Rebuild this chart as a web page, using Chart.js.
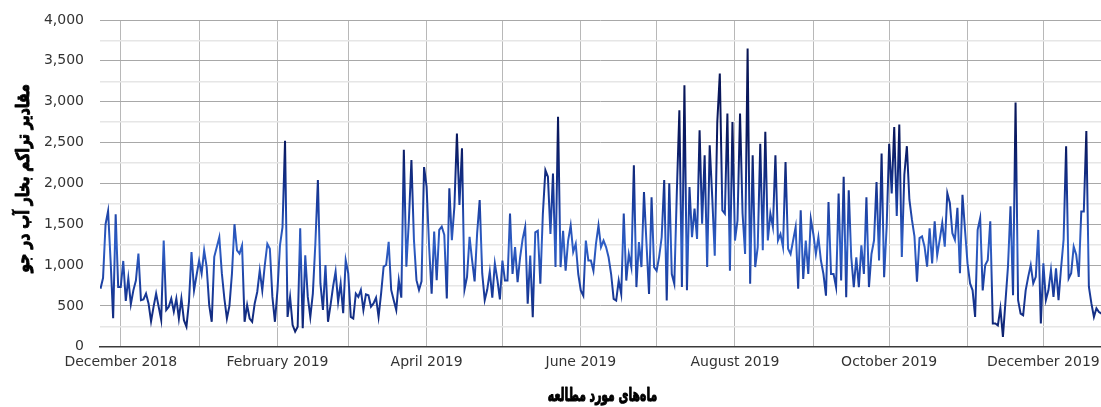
<!DOCTYPE html>
<html>
<head>
<meta charset="utf-8">
<script src="https://cdn.jsdelivr.net/npm/chart.js@4.4.1/dist/chart.umd.min.js"></script>
<style>
html,body{margin:0;padding:0;background:#fff;}
#wrap{width:1101px;height:407px;position:relative;}
</style>
</head>
<body>
<div id="wrap"><canvas id="c"></canvas></div>
<script>
// ---- data: daily values, one array per month ----
const firstDate = '2018-11-23';
const nov2018 = [710, 840, 1500, 1660, 1050, 350, 1620, 730];
const dec2018 = [730, 1050, 560, 840, 520, 690, 810, 1140, 570, 580, 650, 530, 310, 490, 650, 490, 330, 1300, 450, 490, 590, 430, 590, 345, 590, 325, 245, 550, 1160, 690, 875];
const jan2019 = [1055, 895, 1180, 975, 510, 305, 1100, 1220, 1340, 900, 590, 345, 500, 895, 1500, 1180, 1140, 1240, 305, 510, 345, 305, 530, 670, 935, 690, 1000, 1260, 1200, 610, 305];
const feb2019 = [690, 1240, 1465, 2520, 365, 610, 265, 185, 245, 1450, 225, 1120, 610, 365, 650, 1265, 2040, 775, 450, 1000, 305, 510, 735, 920, 550, 775, 410, 1060];
const mar2019 = [900, 365, 345, 650, 610, 695, 450, 640, 630, 490, 530, 600, 365, 650, 980, 1000, 1285, 695, 570, 450, 815, 600, 2410, 980, 1550, 2285, 1305, 815, 695, 800, 2200];
const apr2019 = [1960, 1225, 650, 1410, 815, 1430, 1470, 1370, 590, 1940, 1305, 1715, 2610, 1735, 2430, 700, 855, 1345, 1060, 800, 1390, 1795, 900, 570, 700, 920, 600, 1020, 820, 580];
const may2019 = [1055, 810, 810, 1630, 890, 1220, 790, 1095, 1320, 1465, 525, 1115, 360, 1400, 1420, 770, 1630, 2160, 2080, 1380, 2120, 975, 2815, 975, 1420, 930, 1300, 1485, 1160, 1260, 890];
const jun2019 = [690, 625, 1300, 1055, 1055, 930, 1260, 1485, 1220, 1300, 1220, 1095, 890, 585, 565, 810, 645, 1630, 810, 1135, 975, 2220, 730, 1280, 975, 1895, 1260, 645, 1830, 975];
const jul2019 = [930, 1100, 1340, 2040, 565, 2000, 890, 770, 1895, 2895, 730, 3200, 690, 1955, 1340, 1690, 1320, 2650, 1505, 2345, 975, 2465, 1830, 1115, 2750, 3345, 1670, 1630, 2855, 930, 2750];
const aug2019 = [1300, 1545, 2855, 1630, 1135, 3650, 770, 2345, 975, 1220, 2485, 1180, 2630, 1300, 1630, 1465, 2345, 1300, 1380, 1220, 2260, 1200, 1135, 1300, 1465, 710, 1670, 830, 1300, 890, 1565];
const sep2019 = [1380, 1135, 1340, 1055, 890, 625, 1770, 890, 890, 730, 1875, 810, 2080, 605, 1915, 1095, 730, 1095, 730, 1240, 890, 1830, 730, 1135, 1300, 2015, 1055, 2365, 850, 1465];
const oct2019 = [2485, 1875, 2690, 1600, 2720, 1100, 2105, 2455, 1800, 1555, 1350, 795, 1330, 1350, 1225, 980, 1450, 1020, 1535, 1120, 1310, 1515, 1225, 1880, 1760, 1390, 1310, 1700, 900, 1860, 1430];
const nov2019 = [1020, 775, 690, 365, 1430, 1575, 690, 1000, 1060, 1535, 285, 285, 260, 470, 120, 550, 980, 1720, 630, 2990, 570, 405, 385, 690, 855, 1000, 775, 855, 1430, 285];
const dec2019 = [1020, 570, 690, 940, 610, 960, 570, 960, 1310, 2455, 835, 900, 1225, 1125, 855, 1655, 1655, 2640, 735, 530, 365, 470, 425, 405];

// ---- axis labels ----
const tickDates = ['2018-12-01','2019-01-01','2019-02-01','2019-03-01','2019-04-01','2019-05-01','2019-06-01','2019-07-01','2019-08-01','2019-09-01','2019-10-01','2019-11-01','2019-12-01'];
const tickLabels = ['December 2018','','February 2019','','April 2019','','June 2019','','August 2019','','October 2019','','December 2019'];
const yTitle = 'مقادیر تراکم بخار آب در جو';
const xTitle = 'ماه\u200cهای مورد مطالعه';

// ---- build series ----
const DAY = 86400000;
const toUTC = s => { const p = s.split('-').map(Number); return Date.UTC(p[0], p[1]-1, p[2]); };
const origin = toUTC(tickDates[0]);
const values = [].concat(nov2018, dec2018, jan2019, feb2019, mar2019, apr2019, may2019, jun2019, jul2019, aug2019, sep2019, oct2019, nov2019, dec2019);
const startOffset = (toUTC(firstDate) - origin) / DAY;
const points = values.map((v, i) => ({ x: startOffset + i, y: v }));
const tickPos = tickDates.map(d => (toUTC(d) - origin) / DAY);

const FONT = "'DejaVu Sans', sans-serif";

function lineGradient(ctx) {
  const chart = ctx.chart;
  const area = chart.chartArea;
  if (!area) return '#1a3a98';
  const y = chart.scales.y;
  const g = chart.ctx.createLinearGradient(0, y.getPixelForValue(0), 0, y.getPixelForValue(4000));
  g.addColorStop(0.0, '#0a1a62');
  g.addColorStop(0.18, '#1a3d9e');
  g.addColorStop(0.31, '#2f5fc6');
  g.addColorStop(0.44, '#1a3d9e');
  g.addColorStop(0.62, '#0a1a62');
  g.addColorStop(1.0, '#071350');
  return g;
}

// axis titles drawn as canvas text, condensed and heavy like the reference typeface
const axisTitles = {
  id: 'axisTitles',
  afterDraw(chart) {
    const ctx = chart.ctx;
    const a = chart.chartArea;
    ctx.save();
    ctx.fillStyle = '#000';
    ctx.strokeStyle = '#000';
    ctx.lineJoin = 'round';
    ctx.textAlign = 'center';
    ctx.textBaseline = 'middle';
    ctx.save();
    ctx.translate(24, (a.top + a.bottom) / 2 - 5);
    ctx.rotate(-Math.PI / 2);
    ctx.scale(0.82, 1.05);
    ctx.font = "bold 17px 'DejaVu Sans', sans-serif";
    ctx.lineWidth = 0.9;
    ctx.fillText(yTitle, 0, 0);
    ctx.strokeText(yTitle, 0, 0);
    ctx.restore();
    ctx.save();
    ctx.translate((a.left + a.right) / 2 + 2, 396);
    ctx.scale(0.6, 1);
    ctx.font = "bold 18px 'DejaVu Sans', sans-serif";
    ctx.lineWidth = 1.1;
    ctx.fillText(xTitle, 0, 0);
    ctx.strokeText(xTitle, 0, 0);
    ctx.restore();
    ctx.restore();
  }
};

new Chart(document.getElementById('c'), {
  type: 'line',
  data: {
    datasets: [{
      data: points,
      borderColor: lineGradient,
      borderWidth: 2,
      pointRadius: 0,
      tension: 0,
      fill: false
    }]
  },
  plugins: [axisTitles],
  options: {
    responsive: true,
    maintainAspectRatio: false,
    animation: false,
    layout: { padding: { top: 20, right: 0, bottom: 0, left: 0 } },
    plugins: { legend: { display: false }, tooltip: { enabled: false } },
    scales: {
      x: {
        type: 'linear',
        min: -8.2,
        max: 387.8,
        afterBuildTicks: s => { s.ticks = tickPos.map(v => ({ value: v })); },
        afterFit: s => { s.height = 60.3; s.paddingLeft = 0; s.paddingRight = 0; },
        ticks: {
          autoSkip: false,
          maxRotation: 0,
          padding: 7,
          color: '#333',
          font: { family: FONT, size: 14 },
          callback: (v, i) => tickLabels[i]
        },
        grid: { color: '#b8b8b8', lineWidth: 1, drawTicks: false },
        border: { display: true, color: '#3a3a3a', width: 1.5 },
        title: { display: false }
      },
      y: {
        min: 0,
        max: 4000,
        afterFit: s => { s.width = 100; s.paddingTop = 0; s.paddingBottom = 0; },
        ticks: {
          stepSize: 250,
          autoSkip: false,
          padding: 16,
          color: '#333',
          font: { family: FONT, size: 14 },
          callback: v => (v % 500 === 0 ? v.toLocaleString('en-US') : '')
        },
        grid: {
          drawTicks: false,
          color: c => (c.tick.value === 0 ? '#3a3a3a' : (c.tick.value % 500 === 0 ? '#a8a8a8' : '#e6e6e6')),
          lineWidth: c => (c.tick.value % 500 === 0 ? 1 : 1.5)
        },
        border: { display: false },
        title: { display: false }
      }
    }
  }
});
</script>
</body>
</html>
